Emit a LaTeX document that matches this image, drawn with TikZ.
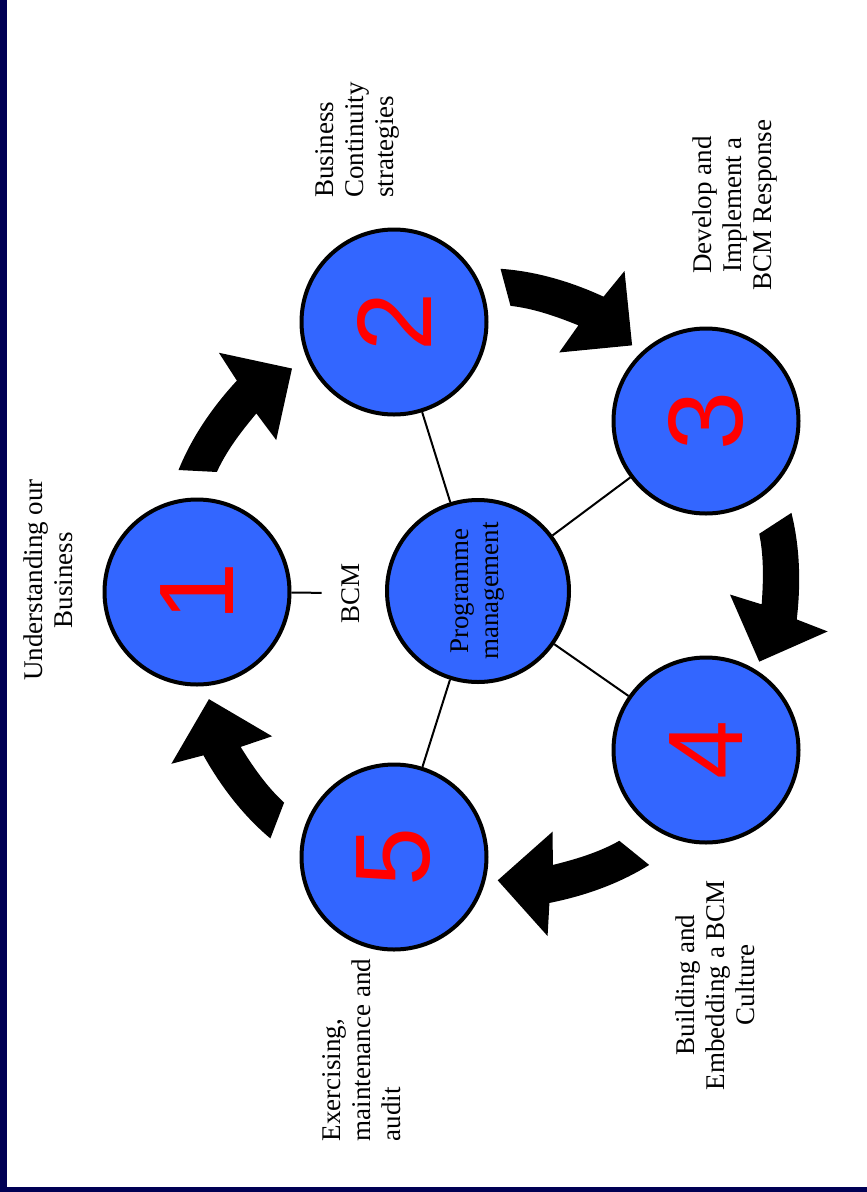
\documentclass[tikz,border=0pt]{standalone}
\usepackage{fontspec}
\setmainfont{Liberation Serif}
\newfontfamily\digitfont{Liberation Sans}
\usepackage{xcolor}
\usepackage{tikz}
\usetikzlibrary{calc}
\usetikzlibrary{positioning}
\definecolor{stageblue}{RGB}{51,102,255}
\definecolor{frameblue}{RGB}{0,0,84}
\tikzset{>=latex}
\tikzstyle{stage} = [circle, draw = black, line width = 4pt, fill = stageblue, minimum size = 185pt, inner sep = 0, text = red, font = \digitfont\fontsize{106}{106}\selectfont, rotate = 90]
\tikzstyle{link} = [-, line width = 2pt]
\tikzstyle{caption} = [draw=none, inner sep = 0, rotate = 90, font = \fontsize{27}{30}\selectfont]
\tikzstyle{bigarrow} = [fill = black, draw = none]

\begin{document}
\begin{tikzpicture}[x=1pt, y=-1pt]
\useasboundingbox (0,0) rectangle (867,1192);
\fill [white] (0,0) rectangle (867,1192);
\fill [frameblue] (0,0) rectangle (7,1192);
\fill [frameblue] (0,1187) rectangle (867,1192);

\foreach \o in {0,72,...,288}
  \fill [bigarrow, shift={(478,591)}] (\o+202:323) .. controls (\o+208.3:325) and (\o+214.8:323) .. (\o+221.1:320) -- (\o+222.6:352) -- (\o+230.1:290) -- (\o+216.8:252) -- (\o+218.7:284) .. controls (\o+214:285.5) and (\o+209.2:288) .. (\o+204.5:287) -- cycle;

\node [stage, font = \fontsize{27}{30}\selectfont, text = black, align = center, minimum size = 182pt] (pm) at (478,591) {Programme\\management};
\node [stage] (c1) at (197,592) {1};
\node [stage] (c2) at (394,322) {2};
\node [stage] (c3) at (706,421) {3};
\node [stage] (c4) at (706,750) {4};
\node [stage] (c5) at (394,857) {5};

\node [caption] (bcm) at (351,593) {BCM};
\draw [link, shorten > = 20pt] (c1) -- (bcm);
\draw [link] (pm) -- (c2);
\draw [link] (pm) -- (c3);
\draw [link] (pm) -- (c4);
\draw [link] (pm) -- (c5);

\node [caption, align=center] (understanding) at (48,580) {Understanding our\\Business};
\node [caption, align=left] (strategies) at (357,140) {Business\\Continuity\\strategies};
\node [caption, align=center] (response) at (735,205) {Develop and\\Implement a\\BCM Response};
\node [caption, align=center] (culture) at (715,985) {Building and\\Embedding a BCM\\Culture};
\node [caption, align=left] (audit) at (362,1050) {Exercising,\\maintenance and\\audit};
\end{tikzpicture}
\end{document}
